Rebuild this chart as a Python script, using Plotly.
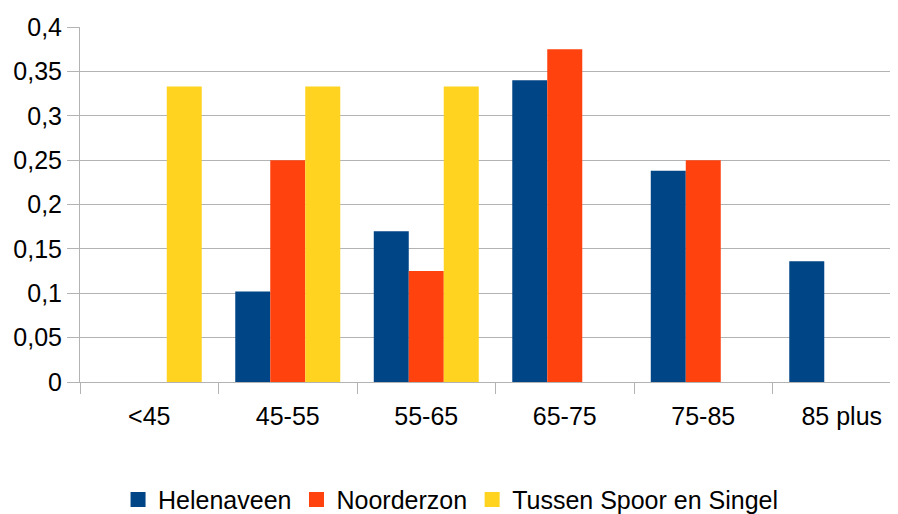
import plotly.graph_objects as go

# data
categories = ["<45", "45-55", "55-65", "65-75", "75-85", "85 plus"]
helenaveen = [0, 0.102, 0.170, 0.340, 0.238, 0.136]
noorderzon = [0, 0.25, 0.125, 0.375, 0.25, 0]
tussen = [0.333, 0.333, 0.333, 0, 0, 0]
y_ticks = [0, 0.05, 0.1, 0.15, 0.2, 0.25, 0.3, 0.35, 0.4]

series = [
    ("Helenaveen", helenaveen, "#004586"),
    ("Noorderzon", noorderzon, "#ff420e"),
    ("Tussen Spoor en Singel", tussen, "#ffd320"),
]

fig = go.Figure()
for name, vals, color in series:
    fig.add_trace(go.Bar(x=categories, y=vals, name=name, showlegend=False,
                         marker=dict(color=color, line=dict(width=0))))
# legend entries with bigger square swatches
for name, vals, color in series:
    fig.add_trace(go.Scatter(x=[None], y=[None], mode="markers", name=name,
                             marker=dict(symbol="square", size=15, color=color)))

# page body has an 8px margin, so the figure is 8px smaller than the window
grid = "#b3b3b3"
fig.update_layout(
    width=890, height=506,
    margin=dict(l=72, r=0, t=19, b=132, autoexpand=False),
    paper_bgcolor="white", plot_bgcolor="white",
    font=dict(family="Liberation Sans", size=25, color="black"),
    separators=", ",
    barmode="group", bargap=0.242, bargroupgap=0,
    showlegend=True,
    legend=dict(orientation="h", x=0.453, xanchor="center", y=-0.332, yanchor="middle",
                font=dict(size=25), itemwidth=30, traceorder="normal"),
)
fig.update_xaxes(
    type="category", range=[-0.5, 5.406], automargin=False,
    showgrid=False, showline=True, linecolor=grid, linewidth=1,
    ticks="outside", tickson="boundaries", ticklen=11, tickcolor=grid,
    ticklabelstandoff=12,
)
fig.update_yaxes(
    range=[0, 0.4], tickvals=y_ticks, automargin=False,
    showgrid=True, gridcolor=grid, gridwidth=1,
    showline=True, linecolor=grid, zeroline=False,
    ticks="outside", ticklen=12, tickcolor=grid,
    ticklabelstandoff=0,
)

fig.write_html("out.html")
